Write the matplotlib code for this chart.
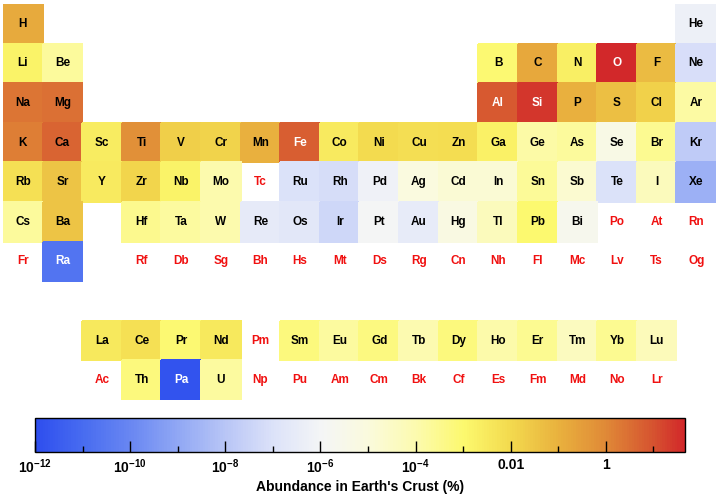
import numpy as np
import matplotlib
matplotlib.use("Agg")
import matplotlib.pyplot as plt
from matplotlib.colors import LinearSegmentedColormap, LogNorm

plt.rcParams['font.family'] = ['Liberation Sans', 'DejaVu Sans']
plt.rcParams['mathtext.fontset'] = 'custom'
plt.rcParams['mathtext.rm'] = 'Liberation Sans'
plt.rcParams['mathtext.bf'] = 'Liberation Sans:bold'

nan = np.nan
symbols = ["H", "He", "Li", "Be", "B", "C", "N", "O", "F", "Ne",
           "Na", "Mg", "Al", "Si", "P", "S", "Cl", "Ar", "K", "Ca",
           "Sc", "Ti", "V", "Cr", "Mn", "Fe", "Co", "Ni", "Cu", "Zn",
           "Ga", "Ge", "As", "Se", "Br", "Kr", "Rb", "Sr", "Y", "Zr",
           "Nb", "Mo", "Tc", "Ru", "Rh", "Pd", "Ag", "Cd", "In", "Sn",
           "Sb", "Te", "I", "Xe", "Cs", "Ba", "La", "Ce", "Pr", "Nd",
           "Pm", "Sm", "Eu", "Gd", "Tb", "Dy", "Ho", "Er", "Tm", "Yb",
           "Lu", "Hf", "Ta", "W", "Re", "Os", "Ir", "Pt", "Au", "Hg",
           "Tl", "Pb", "Bi", "Po", "At", "Rn", "Fr", "Ra", "Ac", "Th",
           "Pa", "U", "Np", "Pu", "Am", "Cm", "Bk", "Cf", "Es", "Fm",
           "Md", "No", "Lr", "Rf", "Db", "Sg", "Bh", "Hs", "Mt", "Ds",
           "Rg", "Cn", "Nh", "Fl", "Mc", "Lv", "Ts", "Og"]

# abundance in Earth's crust (%), nan = no data
abundance = [0.15, 5.5e-7, 1.7e-3, 1.9e-4, 8.6e-4, 0.18, 2e-3, 46, 0.054, 8e-8,
             2.3, 2.9, 8.2, 27, 0.1, 0.042, 0.017, 1.5e-4, 1.5, 5.0,
             2.6e-3, 0.66, 0.019, 0.014, 0.11, 6.3, 3e-3, 9e-3, 6.8e-3, 7.9e-3,
             1.9e-3, 1.4e-4, 2.1e-4, 5e-6, 3e-4, 1.5e-8, 6e-3, 0.036, 2.9e-3, 0.013,
             1.7e-3, 1.1e-4, nan, 9.9e-8, 7e-8, 6.3e-7, 8e-6, 1.5e-5, 1.6e-5, 2.2e-4,
             2e-5, 1e-7, 4.9e-5, 2e-9, 1.9e-4, 0.034, 3.4e-3, 6e-3, 8.7e-4, 3.3e-3,
             nan, 6e-4, 1.8e-4, 5.2e-4, 9.4e-5, 6.2e-4, 1.2e-4, 3e-4, 4.5e-5, 2.8e-4,
             5.6e-5, 3.3e-4, 1.7e-4, 1.1e-4, 2.6e-7, 1.8e-7, 4e-8, 1.2e-6, 3.1e-7, 6.7e-6,
             5.3e-5, 1e-3, 2.5e-6, nan, nan, nan, nan, 2e-11, nan, 6e-4,
             1.5e-12, 1.8e-4] + [nan] * 26

vmin, vmax = 1e-12, 46.1
major_ticks = [1e-12, 1e-10, 1e-8, 1e-6, 1e-4, 1e-2, 1]
major_labels = [r'$\mathbf{10^{-12}}$', r'$\mathbf{10^{-10}}$', r'$\mathbf{10^{-8}}$',
                r'$\mathbf{10^{-6}}$', r'$\mathbf{10^{-4}}$', '0.01', '1']
minor_ticks = [1e-11, 1e-9, 1e-7, 1e-5, 1e-3, 1e-1, 10]


def position(z):
    if z == 1:
        return 0, 0
    if z == 2:
        return 0, 17
    if z <= 4:
        return 1, z - 3
    if z <= 10:
        return 1, z - 5 + 12
    if z <= 12:
        return 2, z - 11
    if z <= 18:
        return 2, z - 13 + 12
    if z <= 36:
        return 3, z - 19
    if z <= 54:
        return 4, z - 37
    if z <= 56:
        return 5, z - 55
    if z <= 71:
        return 8, z - 57 + 2
    if z <= 86:
        return 5, z - 72 + 3
    if z <= 88:
        return 6, z - 87
    if z <= 103:
        return 9, z - 89 + 2
    return 6, z - 104 + 3


stops = [
    (0.000, (46, 78, 238)),
    (0.073, (72, 108, 240)),
    (0.146, (105, 135, 242)),
    (0.220, (145, 168, 244)),
    (0.293, (185, 198, 246)),
    (0.366, (220, 226, 249)),
    (0.440, (244, 245, 246)),
    (0.510, (250, 250, 222)),
    (0.586, (252, 250, 175)),
    (0.660, (252, 249, 110)),
    (0.732, (243, 218, 78)),
    (0.805, (233, 178, 62)),
    (0.878, (224, 138, 55)),
    (0.950, (214, 85, 48)),
    (1.000, (210, 40, 42)),
]
cmap = LinearSegmentedColormap.from_list(
    "abund", [(t, tuple(c / 255 for c in rgb)) for t, rgb in stops])
norm = LogNorm(vmin=vmin, vmax=vmax)

grid = np.full((10, 18), np.nan)
for i, v in enumerate(abundance):
    r, c = position(i + 1)
    grid[r, c] = v
masked = np.ma.masked_invalid(grid)

fig = plt.figure(figsize=(7.2, 4.98), dpi=100)
ax = fig.add_axes([3 / 720, 98 / 498, 713 / 720, 396 / 498])
mesh = ax.pcolormesh(np.arange(19), np.arange(11), masked, cmap=cmap, norm=norm,
                     shading='flat', edgecolors='face', linewidth=0.3)
ax.set_xlim(0, 18)
ax.set_ylim(10, 0)
ax.axis('off')

for i, (s, v) in enumerate(zip(symbols, abundance)):
    r, c = position(i + 1)
    if np.isnan(v):
        col = '#f01010'
    elif v > 5.5 or v < 1e-10:
        col = 'white'
    else:
        col = 'black'
    ax.text(c + 0.5, r + 0.5, s, ha='center', va='center', fontsize=8.5,
            fontweight='bold', color=col)

cax = fig.add_axes([35 / 720, 46 / 498, 650 / 720, 34 / 498])
cb = fig.colorbar(mesh, cax=cax, orientation='horizontal')
cb.outline.set_linewidth(1.0)
cax.xaxis.set_ticks(major_ticks)
cax.xaxis.set_ticklabels(major_labels)
cax.xaxis.set_ticks(minor_ticks, minor=True)
cax.xaxis.set_ticklabels([], minor=True)
cax.tick_params(axis='x', which='major', direction='in', length=8, width=1,
                labelsize=10, pad=4)
cax.tick_params(axis='x', which='minor', direction='in', length=4.5, width=1)
for lab in cax.get_xticklabels():
    lab.set_fontweight('bold')
fig.text(360 / 720, 1 - 487 / 498, "Abundance in Earth's Crust (%)", ha='center',
         va='center', fontsize=10, fontweight='bold')

fig.savefig("out.png", dpi=100)
